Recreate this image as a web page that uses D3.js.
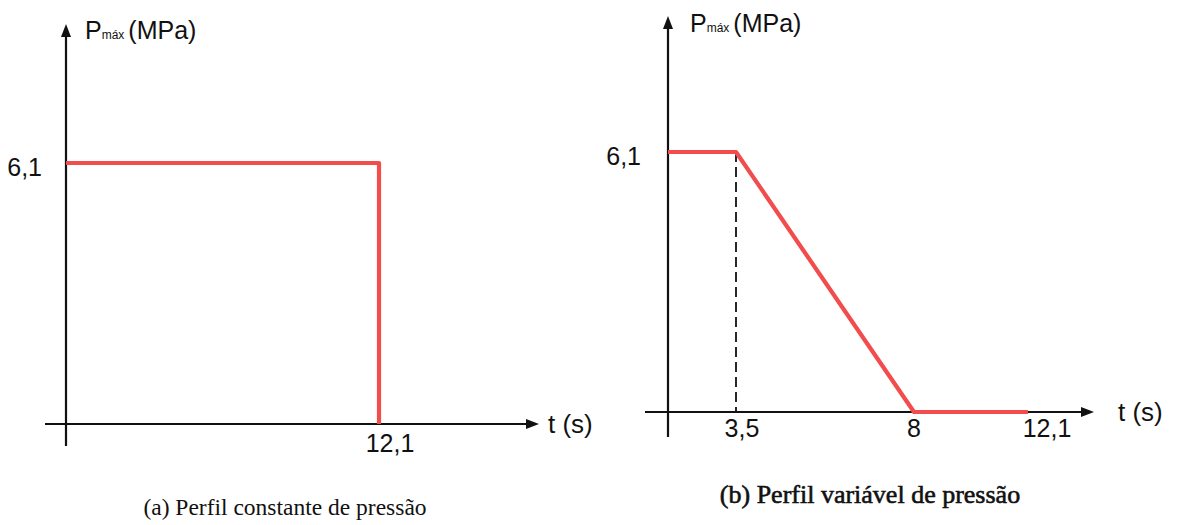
<!DOCTYPE html>
<html><head><meta charset="utf-8">
<script src="https://cdn.jsdelivr.net/npm/d3@7"></script>
<style>body{margin:0;background:#fff}svg{display:block}</style>
</head><body>
<script>
// Data
const profileA_t = [0, 12.1, 12.1];
const profileA_p = [6.1, 6.1, 0];
const profileB_t = [0, 3.5, 8, 12.1];
const profileB_p = [6.1, 6.1, 0, 0];
const ticksA_x = [12.1];
const ticksB_x = [3.5, 8, 12.1];
const ticksY = [6.1];
const guidesB = [3.5];
const captions = ["(a) Perfil constante de pressão", "(b) Perfil variável de pressão"];

const fmt = v => String(v).replace('.', ',');
const W = 1179, H = 525;
const svg = d3.select("body").append("svg").attr("width", W).attr("height", H);
const RED = "#f24c4c";
const SANS = "Liberation Sans, Arial, sans-serif";

function panel(cfg) {
  const g = svg.append("g");
  const x = cfg.x, y = cfg.y;
  const x0 = x(0), y0 = y(0);
  g.append("line").attr("x1", cfg.xAxisStart).attr("x2", cfg.xArrow - 8)
    .attr("y1", y0).attr("y2", y0).attr("stroke", "#111").attr("stroke-width", 2.2);
  g.append("path").attr("d", `M${cfg.xArrow},${y0} L${cfg.xArrow-13},${y0-5} L${cfg.xArrow-13},${y0+5} Z`).attr("fill", "#111");
  g.append("line").attr("x1", x0).attr("x2", x0).attr("y1", cfg.yAxisEnd).attr("y2", cfg.yArrow + 8)
    .attr("stroke", "#111").attr("stroke-width", 2.2);
  g.append("path").attr("d", `M${x0},${cfg.yArrow} L${x0-5},${cfg.yArrow+13} L${x0+5},${cfg.yArrow+13} Z`).attr("fill", "#111");

  const t = g.append("text").attr("x", x0 + cfg.titleDx).attr("y", cfg.yArrow + cfg.titleDy)
    .attr("font-family", SANS).attr("font-size", 25).attr("fill", "#111");
  t.append("tspan").text("P");
  t.append("tspan").attr("font-size", 12).text("máx");
  t.append("tspan").attr("dx", 4).text("(MPa)");
  g.append("text").attr("x", cfg.xArrow + cfg.tDx).attr("y", y0 + 9)
    .attr("font-family", SANS).attr("font-size", 26).attr("fill", "#111")
    .text("t (s)");

  g.selectAll(null).data(cfg.dashed || []).join("line")
    .attr("x1", d => x(d)).attr("x2", d => x(d)).attr("y1", y(6.1)).attr("y2", y0)
    .attr("stroke", "#111").attr("stroke-width", 1.8).attr("stroke-dasharray", "10,5");

  const line = d3.line().x(d => x(d[0])).y(d => y(d[1]));
  g.append("path").datum(d3.zip(cfg.t, cfg.p)).attr("d", line)
    .attr("fill", "none").attr("stroke", RED).attr("stroke-width", 4.2).attr("stroke-linejoin", "round");

  g.selectAll(null).data(cfg.ticksX).join("text")
    .attr("x", d => x(d) + cfg.tickDx(d)).attr("y", y0 + cfg.tickDy).attr("text-anchor", "middle")
    .attr("font-family", SANS).attr("font-size", 25).attr("fill", "#111")
    .text(fmt);
  g.selectAll(null).data(ticksY).join("text")
    .attr("x", x0 - cfg.yLabelGap).attr("y", d => y(d) + cfg.yLabelDy).attr("text-anchor", "end")
    .attr("font-family", SANS).attr("font-size", 25).attr("fill", "#111")
    .text(fmt);
  g.append("text").attr("x", cfg.capX).attr("y", cfg.capY).attr("text-anchor", "middle")
    .attr("font-family", "Liberation Serif, Times New Roman, serif").attr("font-size", cfg.capSize)
    .attr("fill", "#111").attr("stroke", "#111").attr("stroke-width", cfg.capStroke)
    .text(cfg.caption);
}

panel({
  x: d3.scaleLinear().domain([0, 12.1]).range([66, 379]),
  y: d3.scaleLinear().domain([0, 6.1]).range([424, 163]),
  xAxisStart: 45, xArrow: 539, yArrow: 24, yAxisEnd: 446, tDx: 9,
  titleDx: 19, titleDy: 15,
  t: profileA_t, p: profileA_p, ticksX: ticksA_x,
  tickDx: d => 11, tickDy: 28, yLabelGap: 24, yLabelDy: 13,
  caption: captions[0], capX: 285, capY: 515, capSize: 23.5, capStroke: 0
});

panel({
  x: d3.scaleLinear().domain([0, 3.5, 8, 12.1]).range([668, 736, 914, 1028]),
  y: d3.scaleLinear().domain([0, 6.1]).range([412, 152]),
  xAxisStart: 645, xArrow: 1094, yArrow: 16, yAxisEnd: 437, tDx: 24,
  titleDx: 22, titleDy: 16,
  t: profileB_t, p: profileB_p, ticksX: ticksB_x, dashed: guidesB,
  tickDx: d => d === 12.1 ? 19 : (d === 3.5 ? 6 : 0), tickDy: 25, yLabelGap: 27, yLabelDy: 13,
  caption: captions[1], capX: 870, capY: 503, capSize: 26, capStroke: 0.6
});
</script>
</body></html>
